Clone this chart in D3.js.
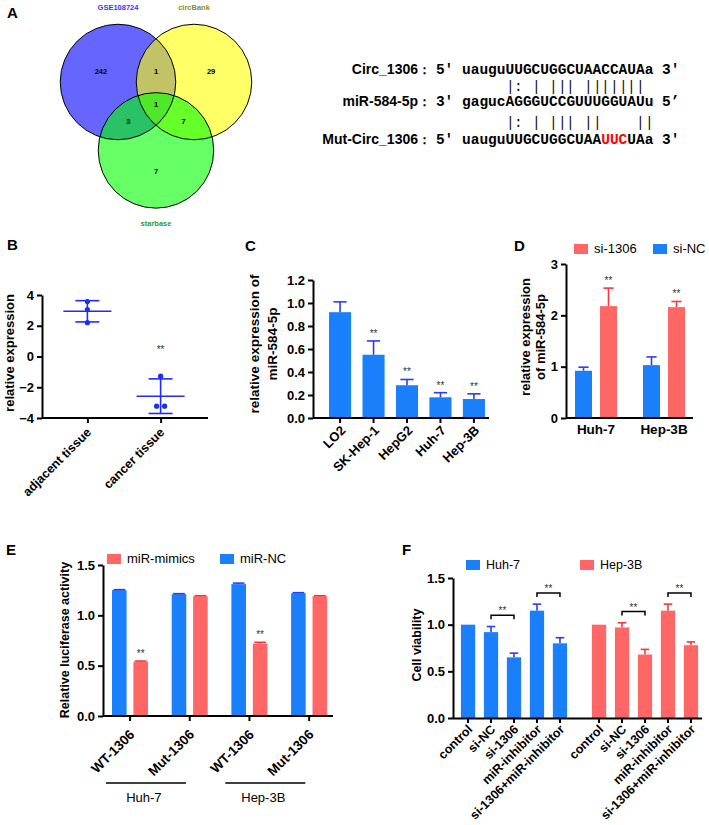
<!DOCTYPE html>
<html>
<head>
<meta charset="utf-8">
<script src="https://cdn.jsdelivr.net/npm/d3@7"></script>
<style>
body { margin: 0; background: #fff; }
svg { font-family: "Liberation Sans", Arial, sans-serif; }
</style>
</head>
<body>
<script>
var W = 709, H = 825;
var blue = "#1a7ffb", red = "#ff6666", errBlue = "#2b3cf6", errRed = "#f23a3a";

// A - venn + binding sites
var vennSets = ["GSE108724", "circBank", "starbase"];
var vennFill = ["#0000ff", "#ffff00", "#00ff00"];
var vennText = ["#3535ff", "#8c8c1e", "#2f9c2f"];
var vennRegions = [[0], [0, 1], [1], [0, 1, 2], [0, 2], [1, 2], [2]];
var vennCounts = [242, 1, 29, 1, 3, 7, 7];

var seqLabels = ["Circ_1306", "miR-584-5p", "Mut-Circ_1306"];
var seqEnds = [["5'", "3'"], ["3'", "5’"], ["5'", "3'"]];
var seqs = ["uauguUUGCUGGCUAACCAUAa", "gagucAGGGUCCGUUUGGUAUu", "uauguUUGCUGGCUAAUUCUAa"];
var mutSites = [16, 17, 18];
var pairLines = ["     |: | ||| |||||||", "     |: | ||| ||    ||"];

// B
var tissueCats = ["adjacent tissue", "cancer tissue"];
var tissueVals = [[3.57, 3.05, 2.2], [-1.28, -3.23, -3.23]];
var tissueSig = ["", "**"];

// C
var cellLines = ["LO2", "SK-Hep-1", "HepG2", "Huh-7", "Hep-3B"];
var cellMean = [0.92, 0.55, 0.285, 0.18, 0.165];
var cellErr = [0.09, 0.12, 0.05, 0.04, 0.045];
var cellSig = ["", "**", "**", "**", "**"];

// D
var dGroups = ["Huh-7", "Hep-3B"];
var dSeries = ["si-NC", "si-1306"];
var dNC = [0.92, 1.03], dNCErr = [0.07, 0.16];
var d1306 = [2.18, 2.16], d1306Err = [0.35, 0.11];
var dSig = ["**", "**"];

// E
var lucCats = ["WT-1306", "Mut-1306", "WT-1306", "Mut-1306"];
var lucLines = ["Huh-7", "Huh-7", "Hep-3B", "Hep-3B"];
var lucSeries = ["miR-NC", "miR-mimics"];
var lucNC = [1.25, 1.21, 1.31, 1.22], lucNCErr = [0.005, 0.005, 0.01, 0.005];
var lucMim = [0.54, 1.19, 0.72, 1.19], lucMimErr = [0.006, 0.005, 0.012, 0.005];
var lucSig = ["**", "", "**", ""];

// F
var viabGroups = ["Huh-7", "Hep-3B"];
var treatments = ["control", "si-NC", "si-1306", "miR-inhibitor", "si-1306+miR-inhibitor"];
var viabHuh7 = [1.0, 0.92, 0.65, 1.15, 0.80], viabHuh7Err = [0, 0.06, 0.045, 0.07, 0.06];
var viabHep3B = [1.0, 0.97, 0.68, 1.15, 0.78], viabHep3BErr = [0, 0.05, 0.055, 0.07, 0.035];
var sigPairs = [[1, 2], [3, 4]];

var svg = d3.select("body").append("svg").attr("width", W).attr("height", H);

function letter(t, x, y) {
  svg.append("text").attr("x", x).attr("y", y).text(t)
    .attr("font-size", 15).attr("font-weight", "bold");
}
letter("A", 7, 18);
letter("B", 7, 250);
letter("C", 245, 251);
letter("D", 514, 251);
letter("E", 6, 555);
letter("F", 402, 555);

function styleAxis(g, size) {
  g.attr("font-family", null).attr("font-size", null);
  g.select(".domain").attr("stroke-width", 2);
  g.selectAll(".tick line").attr("stroke-width", 2);
  g.selectAll(".tick text").attr("font-size", size).attr("font-weight", "bold").attr("fill", "#000");
}
function xLine(g, x0, x1) {
  g.select(".domain").remove();
  g.append("line").attr("x1", x0).attr("x2", x1).attr("stroke", "#000").attr("stroke-width", 2);
}
function rotLabels(g, a, b) {
  g.selectAll(".tick text").attr("text-anchor", "end")
    .attr("x", a).attr("y", b).attr("dy", "0.35em").attr("transform", "rotate(-45)");
}
function yTitle(lines, x, y, size, lh) {
  var t = svg.append("text").attr("transform", "translate(" + x + "," + y + ") rotate(-90)")
    .attr("text-anchor", "middle").attr("font-size", size).attr("font-weight", "bold");
  lines.forEach(function(s, i) {
    t.append("tspan").attr("x", 0)
      .attr("dy", i === 0 ? (0.35 * size - (lines.length - 1) / 2 * lh) : lh).text(s);
  });
}
function stars(g, x, yTop, s) {
  if (!s) return;
  g.append("text").attr("x", x).attr("y", yTop - 4).attr("text-anchor", "middle")
    .attr("font-size", 10).attr("fill", "#333").text(s);
}
function errBar(g, x, y0, y1, w, col) {
  g.append("line").attr("x1", x).attr("x2", x).attr("y1", y0).attr("y2", y1)
    .attr("stroke", col).attr("stroke-width", 1.6);
  g.append("line").attr("x1", x - w / 2).attr("x2", x + w / 2).attr("y1", y1).attr("y2", y1)
    .attr("stroke", col).attr("stroke-width", 1.6);
}
function legend(items, y, size) {
  items.forEach(function(it) {
    svg.append("rect").attr("x", it.x).attr("y", y - 9).attr("width", 14).attr("height", 10).attr("fill", it.c);
    svg.append("text").attr("x", it.x + 20).attr("y", y).attr("font-size", size).text(it.t);
  });
}

// ---------- A: venn ----------
var gA = svg.append("g");
var vx = d3.scaleLinear().domain([0, 1]).range([118, 194]);
var vy = d3.scaleLinear().domain([0, 1]).range([82, 158]);
var vennCenters = [[0, 0], [1, 0], [0.5, 0.9]];
var vr = vx(0.76) - vx(0);
gA.selectAll("circle.fill").data(vennCenters).enter().append("circle")
  .attr("cx", function(d) { return vx(d[0]); }).attr("cy", function(d) { return vy(d[1]); })
  .attr("r", vr).attr("fill", function(d, i) { return vennFill[i]; }).attr("fill-opacity", 0.6);
gA.selectAll("circle.line").data(vennCenters).enter().append("circle")
  .attr("cx", function(d) { return vx(d[0]); }).attr("cy", function(d) { return vy(d[1]); })
  .attr("r", vr).attr("fill", "none").attr("stroke", "#000").attr("stroke-width", 1);
var cen = [d3.mean(vennCenters, function(d) { return d[0]; }), d3.mean(vennCenters, function(d) { return d[1]; })];
vennRegions.forEach(function(reg, i) {
  var mx = d3.mean(reg, function(k) { return vennCenters[k][0]; });
  var my = d3.mean(reg, function(k) { return vennCenters[k][1]; });
  var k = reg.length === 3 ? 0 : 1.45;
  gA.append("text").attr("x", vx(cen[0] + k * (mx - cen[0]))).attr("y", vy(cen[1] + k * (my - cen[1])))
    .attr("dy", "0.35em").attr("text-anchor", "middle").attr("font-size", 7.5).attr("font-weight", "bold")
    .text(vennCounts[i]);
});
var vennLabelPos = [[0, -0.98], [1, -0.98], [0.5, 1.86]];
vennSets.forEach(function(s, i) {
  gA.append("text").attr("x", vx(vennLabelPos[i][0])).attr("y", vy(vennLabelPos[i][1]))
    .attr("dy", "0.35em").attr("text-anchor", "middle").attr("font-size", 7.5).attr("font-weight", "bold")
    .attr("fill", vennText[i]).text(s);
});

// sequences
var seqSize = 14.5, charW = seqSize * 0.6, seqX = 462;
var seqY = [74, 106, 144], pairY = [91, 127];
seqs.forEach(function(s, i) {
  gA.append("text").attr("x", 418).attr("y", seqY[i]).attr("text-anchor", "end")
    .attr("font-size", 14).attr("font-weight", "bold").text(seqLabels[i]);
  gA.append("text").attr("x", 418).attr("y", seqY[i]).attr("font-size", 13).attr("font-weight", "bold").text("：");
  var mono = gA.append("text").attr("y", seqY[i]).attr("font-family", "'Liberation Mono', monospace")
    .attr("font-size", seqSize).attr("font-weight", "bold");
  mono.append("tspan").attr("x", seqX - 3 * charW).text(seqEnds[i][0]);
  s.split("").forEach(function(ch, j) {
    var hot = i === 2 && mutSites.indexOf(j) >= 0;
    mono.append("tspan").attr("x", seqX + j * charW).attr("fill", hot ? "#ff0000" : "#000").text(ch);
  });
  mono.append("tspan").attr("x", seqX + (s.length + 1) * charW).text(seqEnds[i][1]);
});
pairLines.forEach(function(p, i) {
  p.split("").forEach(function(ch, j) {
    if (ch === " ") return;
    gA.append("text").attr("x", Math.round(seqX + j * charW)).attr("y", pairY[i])
      .attr("font-family", "'Liberation Mono', monospace").attr("font-size", seqSize)
      .attr("fill", "#111").text(ch);
  });
});

// ---------- B ----------
var gB = svg.append("g");
var xB = d3.scalePoint().domain(tissueCats).range([42, 206]).padding(0.62);
var yB = d3.scaleLinear().domain([-4, 4]).range([418, 295]);
gB.append("g").attr("transform", "translate(42,0)")
  .call(d3.axisLeft(yB).tickValues([-4, -2, 0, 2, 4]).tickFormat(d3.format("d")).tickSize(5).tickSizeOuter(0))
  .call(styleAxis, 13);
gB.append("g").attr("transform", "translate(0,418)")
  .call(d3.axisBottom(xB).tickSize(5)).call(styleAxis, 12.5).call(xLine, 42, 208).call(rotLabels, -7.8, 9.2);
var dotCol = "#1f2cf5";
tissueCats.forEach(function(c, i) {
  var v = tissueVals[i], m = d3.mean(v), sd = d3.deviation(v), cx = xB(c);
  gB.append("line").attr("x1", cx - 24).attr("x2", cx + 24).attr("y1", yB(m)).attr("y2", yB(m))
    .attr("stroke", dotCol).attr("stroke-width", 1.5);
  gB.append("line").attr("x1", cx).attr("x2", cx).attr("y1", yB(m - sd)).attr("y2", yB(m + sd))
    .attr("stroke", dotCol).attr("stroke-width", 1.6);
  [m - sd, m + sd].forEach(function(e) {
    gB.append("line").attr("x1", cx - 12).attr("x2", cx + 12).attr("y1", yB(e)).attr("y2", yB(e))
      .attr("stroke", dotCol).attr("stroke-width", 1.6);
  });
  v.forEach(function(p, j) {
    var dup = v.filter(function(q) { return q === p; }).length > 1;
    var off = dup ? (v.indexOf(p) === j ? -4 : 4) : 0;
    gB.append("circle").attr("cx", cx + off).attr("cy", yB(p)).attr("r", 2.6).attr("fill", dotCol);
  });
  stars(gB, cx, yB(m + sd) - 22, tissueSig[i]);
});
yTitle(["relative expression"], 9, 353, 13, 15);

// ---------- C ----------
var gC = svg.append("g");
var xC = d3.scaleBand().domain(cellLines).range([318, 496]).paddingInner(0.34).paddingOuter(0.33);
var yC = d3.scaleLinear().domain([0, 1.2]).range([418, 280]);
gC.append("g").attr("transform", "translate(313,0)")
  .call(d3.axisLeft(yC).tickValues([0, 0.2, 0.4, 0.6, 0.8, 1.0, 1.2]).tickFormat(d3.format(".1f")).tickSize(5).tickSizeOuter(0))
  .call(styleAxis, 13);
cellLines.forEach(function(c, i) {
  var x = xC(c), bw = xC.bandwidth();
  errBar(gC, x + bw / 2, yC(cellMean[i]), yC(cellMean[i] + cellErr[i]), bw * 0.6, errBlue);
  gC.append("rect").attr("x", x).attr("y", yC(cellMean[i])).attr("width", bw)
    .attr("height", yC(0) - yC(cellMean[i])).attr("fill", blue);
  stars(gC, x + bw / 2, yC(cellMean[i] + cellErr[i]), cellSig[i]);
});
gC.append("g").attr("transform", "translate(0,418)")
  .call(d3.axisBottom(xC).tickSize(5)).call(styleAxis, 13).call(xLine, 313, 489).call(rotLabels, -4.9, 9.2);
yTitle(["relative expression of", "miR-584-5p"], 263, 344, 13.5, 18);

// ---------- D ----------
var gD = svg.append("g");
var xD = d3.scaleBand().domain(dGroups).range([562, 698]);
var xDi = d3.scaleBand().domain(dSeries).range([13, 55]).paddingInner(0.32);
var yD = d3.scaleLinear().domain([0, 3]).range([418, 264]);
gD.append("g").attr("transform", "translate(566,0)")
  .call(d3.axisLeft(yD).tickValues([0, 1, 2, 3]).tickFormat(d3.format("d")).tickSize(5).tickSizeOuter(0))
  .call(styleAxis, 13);
var dData = [
  { s: "si-NC", m: dNC, e: dNCErr, c: blue, ec: errBlue },
  { s: "si-1306", m: d1306, e: d1306Err, c: red, ec: errRed }
];
dGroups.forEach(function(g, i) {
  dData.forEach(function(d) {
    var x = xD(g) + xDi(d.s), bw = xDi.bandwidth();
    errBar(gD, x + bw / 2, yD(d.m[i]), yD(d.m[i] + d.e[i]), bw * 0.6, d.ec);
    gD.append("rect").attr("x", x).attr("y", yD(d.m[i])).attr("width", bw)
      .attr("height", yD(0) - yD(d.m[i])).attr("fill", d.c);
    if (d.s === "si-1306") stars(gD, x + bw / 2, yD(d.m[i] + d.e[i]), dSig[i]);
  });
});
gD.append("g").attr("transform", "translate(0,418)")
  .call(d3.axisBottom(xD).tickSize(0).tickPadding(6)).call(styleAxis, 13.5).call(xLine, 566, 693);
yTitle(["relative expression", "of miR-584-5p"], 533, 337, 13, 15.5);
legend([{ x: 574, c: red, t: "si-1306" }, { x: 653, c: blue, t: "si-NC" }], 253, 13);

// ---------- E ----------
var gE = svg.append("g");
var idxE = d3.range(lucCats.length);
var xE = d3.scaleBand().domain(idxE).range([100.2, 339]);
var xEi = d3.scaleBand().domain(lucSeries).range([11.8, 47.8]).paddingInner(0.32);
var yE = d3.scaleLinear().domain([0, 1.5]).range([716, 565]);
gE.append("g").attr("transform", "translate(103,0)")
  .call(d3.axisLeft(yE).tickValues([0, 0.5, 1.0, 1.5]).tickFormat(d3.format(".1f")).tickSize(5).tickSizeOuter(0))
  .call(styleAxis, 13);
var eData = [
  { s: "miR-NC", m: lucNC, e: lucNCErr, c: blue, ec: errBlue },
  { s: "miR-mimics", m: lucMim, e: lucMimErr, c: red, ec: errRed }
];
idxE.forEach(function(i) {
  eData.forEach(function(d) {
    var x = xE(i) + xEi(d.s), bw = xEi.bandwidth();
    gE.append("rect").attr("x", x).attr("y", yE(d.m[i])).attr("width", bw)
      .attr("height", yE(0) - yE(d.m[i])).attr("fill", d.c);
    errBar(gE, x + bw / 2, yE(d.m[i]), yE(d.m[i] + d.e[i]), bw * 0.8, d.ec);
    if (d.s === "miR-mimics") stars(gE, x + bw / 2, yE(d.m[i] + d.e[i]), lucSig[i]);
  });
});
gE.append("g").attr("transform", "translate(0,716)")
  .call(d3.axisBottom(xE).tickSize(5).tickFormat(function(i) { return lucCats[i]; }))
  .call(styleAxis, 13.5).call(xLine, 103, 333).call(rotLabels, -9.9, 12.7);
Array.from(new Set(lucLines)).forEach(function(l) {
  var ids = idxE.filter(function(i) { return lucLines[i] === l; });
  var c = (xE(ids[0]) + xE(ids[ids.length - 1]) + xE.bandwidth()) / 2 - 14;
  gE.append("line").attr("x1", c - 40).attr("x2", c + 40).attr("y1", 783).attr("y2", 783)
    .attr("stroke", "#000").attr("stroke-width", 1.6);
  gE.append("text").attr("x", c - 2).attr("y", 802).attr("text-anchor", "middle").attr("font-size", 13).text(l);
});
yTitle(["Relative luciferase activity"], 65, 640, 12.5, 15);
legend([{ x: 107, c: red, t: "miR-mimics" }, { x: 220, c: blue, t: "miR-NC" }], 563, 13);

// ---------- F ----------
var gF = svg.append("g");
var xF = d3.scaleBand().domain(viabGroups).range([448.5, 710.5]);
var xFi = d3.scaleBand().domain(treatments).range([0, xF.bandwidth()]).paddingInner(0.38).paddingOuter(0.54);
var yF = d3.scaleLinear().domain([0, 1.5]).range([718, 578]);
gF.append("g").attr("transform", "translate(453,0)")
  .call(d3.axisLeft(yF).tickValues([0, 0.5, 1.0, 1.5]).tickFormat(d3.format(".1f")).tickSize(5).tickSizeOuter(0))
  .call(styleAxis, 13);
var fData = [
  { g: "Huh-7", m: viabHuh7, e: viabHuh7Err, c: blue, ec: errBlue },
  { g: "Hep-3B", m: viabHep3B, e: viabHep3BErr, c: red, ec: errRed }
];
fData.forEach(function(d) {
  var bw = xFi.bandwidth();
  treatments.forEach(function(t, i) {
    var x = xF(d.g) + xFi(t);
    if (d.e[i] > 0) errBar(gF, x + bw / 2, yF(d.m[i]), yF(d.m[i] + d.e[i]), bw * 0.6, d.ec);
    gF.append("rect").attr("x", x).attr("y", yF(d.m[i])).attr("width", bw)
      .attr("height", yF(0) - yF(d.m[i])).attr("fill", d.c);
  });
  sigPairs.forEach(function(p) {
    var top = d3.max(p, function(i) { return d.m[i] + d.e[i]; });
    var by = yF(top + 0.12);
    var x0 = xF(d.g) + xFi(treatments[p[0]]) + bw / 2, x1 = xF(d.g) + xFi(treatments[p[1]]) + bw / 2;
    gF.append("path").attr("d", "M" + x0 + "," + (by + 4) + "V" + by + "H" + x1 + "V" + (by + 4))
      .attr("fill", "none").attr("stroke", "#000").attr("stroke-width", 1.5);
    gF.append("text").attr("x", (x0 + x1) / 2).attr("y", by - 1).attr("text-anchor", "middle")
      .attr("font-size", 10).attr("fill", "#333").text("**");
  });
  gF.append("g").attr("transform", "translate(" + xF(d.g) + ",718)")
    .call(d3.axisBottom(xFi).tickSize(5)).call(styleAxis, 12.5).call(rotLabels, -4.9, 7.8)
    .select(".domain").remove();
});
gF.append("line").attr("x1", 453).attr("x2", 702).attr("y1", 718.5).attr("y2", 718.5)
  .attr("stroke", "#000").attr("stroke-width", 2);
yTitle(["Cell viability"], 417, 645, 12.5, 15);
legend([{ x: 466, c: blue, t: "Huh-7" }, { x: 580, c: red, t: "Hep-3B" }], 569, 12.5);
</script>
</body>
</html>
